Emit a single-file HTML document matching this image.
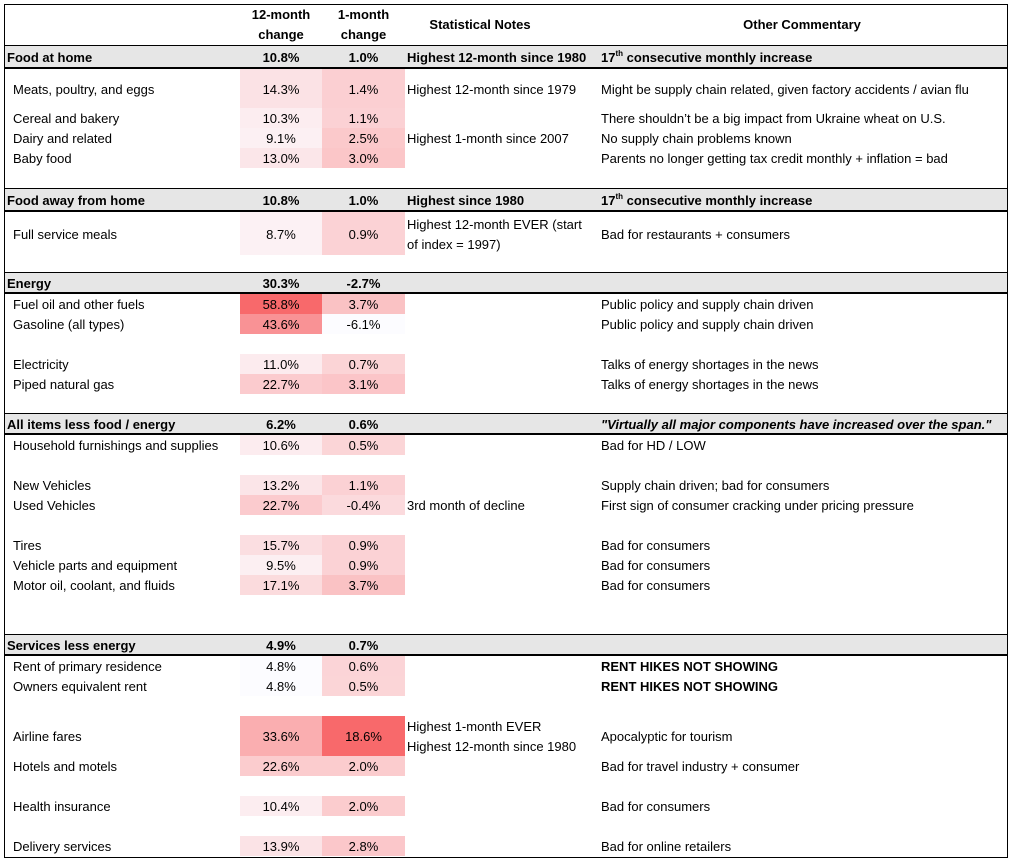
<!DOCTYPE html>
<html><head><meta charset="utf-8">
<style>
body{margin:0;background:#fff;width:1011px;height:859px;position:relative;overflow:hidden;font-family:"Liberation Sans",sans-serif;font-size:13px;color:#000}
#frame{position:absolute;left:4px;top:4px;width:1002px;height:852px;border:1px solid #000;box-sizing:content-box}
.abs{position:absolute;white-space:nowrap}
.band{position:absolute;left:5px;width:1002px;background:#e6e6e6;border-top:1px solid #000;border-bottom:2px solid #000;box-sizing:border-box}
.c{text-align:center}
sup{font-size:8px;vertical-align:6px;line-height:0}
</style></head><body>
<div id="frame"></div>
<div class="abs c" style="left:240px;width:82px;top:5px;font-weight:bold;line-height:20px">12-month<br>change</div>
<div class="abs c" style="left:322px;width:83px;top:5px;font-weight:bold;line-height:20px">1-month<br>change</div>
<div class="abs c" style="left:405px;width:150px;top:17px;font-weight:bold">Statistical Notes</div>
<div class="abs c" style="left:596px;width:412px;top:17px;font-weight:bold">Other Commentary</div>
<div id="rows"></div>
<script>
const labels=["Food at home","Meats, poultry, and eggs","Cereal and bakery","Dairy and related","Baby food","Food away from home","Full service meals","Energy","Fuel oil and other fuels","Gasoline (all types)","Electricity","Piped natural gas","All items less food / energy","Household furnishings and supplies","New Vehicles","Used Vehicles","Tires","Vehicle parts and equipment","Motor oil, coolant, and fluids","Services less energy","Rent of primary residence","Owners equivalent rent","Airline fares","Hotels and motels","Health insurance","Delivery services"];
const isSection=[1,0,0,0,0,1,0,1,0,0,0,0,1,0,0,0,0,0,0,1,0,0,0,0,0,0];
const change12=[10.8,14.3,10.3,9.1,13.0,10.8,8.7,30.3,58.8,43.6,11.0,22.7,6.2,10.6,13.2,22.7,15.7,9.5,17.1,4.9,4.8,4.8,33.6,22.6,10.4,13.9];
const change1=[1.0,1.4,1.1,2.5,3.0,1.0,0.9,-2.7,3.7,-6.1,0.7,3.1,0.6,0.5,1.1,-0.4,0.9,0.9,3.7,0.7,0.6,0.5,18.6,2.0,2.0,2.8];
const notes=["Highest 12-month since 1980","Highest 12-month since 1979","","Highest 1-month since 2007","","Highest since 1980","Highest 12-month EVER (start<br>of index = 1997)","","","","","","","","","3rd month of decline","","","","","","","Highest 1-month EVER<br>Highest 12-month since 1980","","",""];
const comments=["17<sup>th</sup> consecutive monthly increase","Might be supply chain related, given factory accidents / avian flu","There shouldn’t be a big impact from Ukraine wheat on U.S.","No supply chain problems known","Parents no longer getting tax credit monthly + inflation = bad","17<sup>th</sup> consecutive monthly increase","Bad for restaurants + consumers","","Public policy and supply chain driven","Public policy and supply chain driven","Talks of energy shortages in the news","Talks of energy shortages in the news","<i>\"Virtually all major components have increased over the span.\"</i>","Bad for HD / LOW","Supply chain driven; bad for consumers","First sign of consumer cracking under pricing pressure","Bad for consumers","Bad for consumers","Bad for consumers","","<b>RENT HIKES NOT SHOWING</b>","<b>RENT HIKES NOT SHOWING</b>","Apocalyptic for tourism","Bad for travel industry + consumer","Bad for consumers","Bad for online retailers"];
// layout (row top / height in px)
const rowTop=[45,69,108,128,148,188,212,272,294,314,354,374,413,435,475,495,535,555,575,634,656,676,716,756,796,836];
const rowH=[24,39,20,20,20,24,43,22,20,20,20,20,22,20,20,20,20,20,20,22,20,20,40,20,20,20];
function scaleColor(v,arr){
  const vals=arr.filter((_,i)=>!isSection[i]);
  const mn=Math.min(...vals),mx=Math.max(...vals);
  const t=(v-mn)/(mx-mn);
  const a=[252,252,255],b=[248,105,107];
  return 'rgb('+a.map((c,i)=>Math.round(c+(b[i]-c)*t)).join(',')+')';
}
const root=document.getElementById('rows');
function mk(cls,style,html,name){
  const d=document.createElement('div');
  d.className=cls;d.style.cssText=style;d.innerHTML=html;
  
  
  root.appendChild(d);return d;
}
labels.forEach((lab,i)=>{
  const top=rowTop[i],h=rowH[i],sec=isSection[i];
  if(sec){
    mk('band','top:'+top+'px;height:'+h+'px;','','section-band');
  }
  const tTop=sec?top+1:top+1;
  const lh='line-height:'+h+'px;';
  const w=sec?'font-weight:bold;':'';
  mk('abs','left:'+(sec?7:13)+'px;top:'+tTop+'px;'+lh+w,lab,'row-label');
  let bg12='',bg1='';
  if(!sec){
    bg12='background:'+scaleColor(change12[i],change12)+';';
    bg1='background:'+scaleColor(change1[i],change1)+';';
  }
  mk('abs c','left:240px;width:82px;top:'+top+'px;height:'+h+'px;'+lh+w+bg12+'padding-top:1px;box-sizing:border-box',change12[i].toFixed(1)+'%','cell-12-month');
  mk('abs c','left:322px;width:83px;top:'+top+'px;height:'+h+'px;'+lh+w+bg1+'padding-top:1px;box-sizing:border-box',change1[i].toFixed(1)+'%','cell-1-month');
  if(notes[i]){
    const multi=notes[i].indexOf('<br>')>=0;
    const nt=multi?top+1+(h-40)/2:tTop;
    mk('abs','left:407px;top:'+nt+'px;line-height:20px;'+(multi?'':lh)+w,notes[i],'statistical-note');
  }
  if(comments[i]){
    mk('abs','left:601px;top:'+tTop+'px;'+lh+w,comments[i],'commentary');
  }
});
</script>
</body></html>
